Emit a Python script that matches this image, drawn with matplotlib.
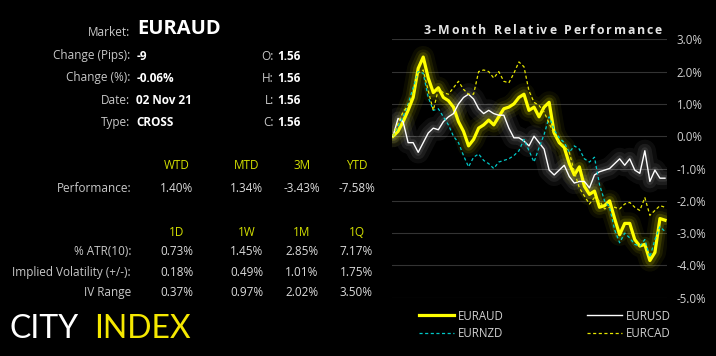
import matplotlib
matplotlib.use('Agg')
import matplotlib.pyplot as plt
import numpy as np

# ---------------- data ----------------
eur_aud = [0.0, 0.15, 0.45, 0.8, 1.2, 2.1, 2.45, 1.8, 1.35, 1.5, 1.2, 1.1, 0.9, 0.45, 0.15,
           -0.3, -0.1, 0.25, 0.35, 0.5, 0.35, 0.6, 0.85, 0.9, 1.0, 1.2, 1.3, 0.8, 0.9, 0.6,
           0.9, 1.05, 0.1, -0.2, -0.35, -0.85, -1.2, -0.95, -1.55, -1.8, -1.7, -2.2, -2.15,
           -2.0, -2.55, -3.05, -2.7, -2.7, -3.2, -3.4, -3.35, -3.85, -3.6, -2.55, -2.6]
eur_usd = [0.0, 0.55, 0.45, -0.2, -0.2, -0.5, -0.2, 0.1, 0.25, 0.2, 0.45, 0.6, 0.7, 1.0, 1.2,
           1.3, 1.15, 0.85, 0.7, 0.8, 0.7, 0.65, 0.65, 0.25, -0.05, -0.05, -0.15, -0.3, 0.0,
           -0.2, -0.4, -1.05, -1.2, -1.05, -0.9, -1.25, -1.45, -1.4, -1.4, -1.6, -1.2, -1.1,
           -1.05, -1.0, -0.85, -0.7, -0.9, -0.7, -1.05, -1.15, -0.45, -1.4, -1.05, -1.3, -1.3]
eur_nzd = [0.0, 0.3, 0.6, 1.0, 1.5, 2.0, 1.95, 1.2, 0.8, 0.85, 0.6, 0.35, 0.0, -0.2, -0.6,
           -0.95, -0.65, -0.55, -0.75, -0.85, -1.0, -0.8, -0.75, -0.7, -0.6, -0.45, -0.1,
           -0.45, -0.8, -0.35, 0.05, 0.6, 0.2, -0.05, -0.2, -0.5, -0.3, -0.4, -0.7, -0.8,
           -0.65, -1.5, -2.0, -2.2, -2.9, -3.3, -3.0, -3.15, -3.35, -3.4, -3.2, -3.75, -3.2,
           -2.8, -2.95]
eur_cad = [0.0, 0.4, 0.75, 0.95, 1.3, 1.95, 2.05, 1.4, 0.8, 1.45, 1.35, 1.3, 1.5, 1.7, 1.45,
           1.3, 1.3, 2.0, 2.05, 2.0, 1.8, 2.0, 1.7, 1.65, 1.95, 2.3, 2.15, 1.4, 1.05, 0.95,
           0.75, 0.4, 0.05, -0.2, -0.3, -0.5, -1.1, -1.6, -1.85, -2.1, -1.9, -2.0, -2.25,
           -2.2, -2.2, -2.25, -2.1, -2.05, -2.2, -2.3, -1.9, -2.45, -2.3, -2.15, -2.2]
series_names = ['EURAUD', 'EURUSD', 'EURNZD', 'EURCAD']
y_ticks = [3, 2, 1, 0, -1, -2, -3, -4, -5]
y_tick_labels = ['3.0%', '2.0%', '1.0%', '0.0%', '-1.0%', '-2.0%', '-3.0%', '-4.0%', '-5.0%']

chart_title = '3-Month Relative Performance'
market = 'EURAUD'
info_labels = ['Change (Pips):', 'Change (%):', 'Date:', 'Type:']
info_values = ['-9', '-0.06%', '02 Nov 21', 'CROSS']
ohlc_labels = ['O:', 'H:', 'L:', 'C:']
ohlc_values = ['1.56', '1.56', '1.56', '1.56']
perf_headers = ['WTD', 'MTD', '3M', 'YTD']
perf_values = ['1.40%', '1.34%', '-3.43%', '-7.58%']
vol_headers = ['1D', '1W', '1M', '1Q']
vol_rows = ['% ATR(10):', 'Implied Volatility (+/-):', 'IV Range']
vol_values = [['0.73%', '1.45%', '2.85%', '7.17%'],
              ['0.18%', '0.49%', '1.01%', '1.75%'],
              ['0.37%', '0.97%', '2.02%', '3.50%']]

# ---------------- figure ----------------
W, H = 716, 356
plt.rcParams['font.family'] = ['Open Sans', 'DejaVu Sans']
fig = plt.figure(figsize=(W / 100, H / 100), dpi=100, facecolor='black')
renderer = fig.canvas.get_renderer()


def fx(x):
    return x / W


def fy(y):
    return 1 - y / H


LABEL_C = '#c8c8c8'
VALUE_C = '#ffffff'
HEAD_C = '#d4e000'
FS = 8.5

# left info panel
fig.text(fx(130), fy(32), 'Market:', color=LABEL_C, fontsize=FS, ha='right', va='center')
fig.text(fx(137), fy(29.5), market, color=VALUE_C, fontsize=14.5, fontweight='bold',
         ha='left', va='center')
rows_y = [56, 78, 100, 122]
for lab, val, ol, ov, yy in zip(info_labels, info_values, ohlc_labels, ohlc_values, rows_y):
    fig.text(fx(130), fy(yy), lab, color=LABEL_C, fontsize=FS, ha='right', va='center')
    fig.text(fx(136.5), fy(yy), val, color=VALUE_C, fontsize=FS, fontweight='bold',
             ha='left', va='center')
    fig.text(fx(274), fy(yy), ol, color=LABEL_C, fontsize=FS, ha='right', va='center')
    fig.text(fx(277.5), fy(yy), ov, color=VALUE_C, fontsize=FS, fontweight='bold',
             ha='left', va='center')

col_x = [176.7, 246.7, 301.7, 356.5]
for hdr, cx in zip(perf_headers, col_x):
    fig.text(fx(cx), fy(166), hdr, color=HEAD_C, fontsize=FS, ha='center', va='center')
fig.text(fx(131), fy(188.3), 'Performance:', color=LABEL_C, fontsize=FS, ha='right', va='center')
for v, cx in zip(perf_values, col_x):
    fig.text(fx(cx), fy(188.3), v, color='#dcdcdc', fontsize=FS, ha='center', va='center')

for hdr, cx in zip(vol_headers, col_x):
    fig.text(fx(cx), fy(232.3), hdr, color=HEAD_C, fontsize=FS, ha='center', va='center')
for lab, vals, yy in zip(vol_rows, vol_values, [251.7, 272.3, 292.3]):
    fig.text(fx(131), fy(yy), lab, color=LABEL_C, fontsize=FS, ha='right', va='center')
    for v, cx in zip(vals, col_x):
        fig.text(fx(cx), fy(yy), v, color='#dcdcdc', fontsize=FS, ha='center', va='center')

# logo
fig.text(fx(9.5), fy(338.5), 'CITY', color='white', fontsize=23, fontfamily='Lato',
         fontweight='normal', ha='left', va='baseline')
fig.text(fx(94), fy(338.5), 'INDEX', color='#f5e800', fontsize=23, fontfamily='Lato',
         fontweight='normal', ha='left', va='baseline')

# ---------------- chart ----------------
ax_left, ax_right = 392, 667
ax_top, ax_bottom = 39.3, 297.7
ax = fig.add_axes([fx(ax_left), fy(ax_bottom), (ax_right - ax_left) / W,
                   (ax_bottom - ax_top) / H])
ax.set_facecolor('black')
n = len(eur_aud)
x = np.arange(n)
ax.set_xlim(-0.2, (n - 1) + 0.4)
ax.set_ylim(-5, 3)

for t in y_ticks:
    ax.axhline(t, color='#333333', lw=0.8, zorder=0)

# glow layers
for lw, a in [(16, 0.05), (11, 0.08), (7, 0.14)]:
    ax.plot(x, eur_aud, color='#ffff00', lw=lw, alpha=a, solid_capstyle='round',
            solid_joinstyle='round', zorder=1)
for lw, a in [(16, 0.05), (10, 0.07), (5, 0.09)]:
    ax.plot(x, eur_usd, color='#ffffff', lw=lw, alpha=a, solid_capstyle='round',
            solid_joinstyle='round', zorder=1)

l_aud, = ax.plot(x, eur_aud, color='#ffff00', lw=2.3, zorder=3, label=series_names[0])
l_usd, = ax.plot(x, eur_usd, color='#ffffff', lw=1.0, zorder=4, label=series_names[1])
l_nzd, = ax.plot(x, eur_nzd, color='#00c8c8', lw=0.9, ls=(0, (2.5, 2)), zorder=5,
                 label=series_names[2])
l_cad, = ax.plot(x, eur_cad, color='#e6e600', lw=0.9, ls=(0, (2.5, 2)), zorder=5,
                 label=series_names[3])

ax.yaxis.tick_right()
ax.set_yticks(y_ticks)
ax.set_yticklabels(y_tick_labels)
ax.tick_params(axis='y', length=0, pad=7, labelcolor='#d0d0d0', labelsize=8.3)
for lab in ax.get_yticklabels():
    lab.set_horizontalalignment('left')
ax.set_xticks([])
for s in ax.spines.values():
    s.set_visible(False)

# letter-spaced title (right edge at x=662, left edge at x=423)
title_left, title_right = 423, 662
tprops = dict(color='#e4e4e4', fontsize=8.8, fontweight='bold', va='center', ha='left')
widths = []
for ch in chart_title:
    t = fig.text(0, 0, ch if ch != ' ' else 'a', **tprops)
    bb = t.get_window_extent(renderer)
    w = bb.width if ch != ' ' else bb.width * 0.5
    widths.append(w)
    t.remove()
gap = ((title_right - title_left) - sum(widths)) / (len(chart_title) - 1)
cx = title_left
for ch, w in zip(chart_title, widths):
    if ch != ' ':
        fig.text(fx(cx), fy(30.5), ch, **tprops)
    cx += w + gap

leg = fig.legend(handles=[l_aud, l_nzd, l_usd, l_cad], ncol=2, loc='upper left',
                 bbox_to_anchor=(fx(419), fy(309.5)), frameon=False, fontsize=8.3,
                 handlelength=3.05, handletextpad=0.35, columnspacing=7.2,
                 labelspacing=0.42, borderpad=0, borderaxespad=0, labelcolor='#d0d0d0')

fig.savefig('out.png', dpi=100, facecolor='black')
